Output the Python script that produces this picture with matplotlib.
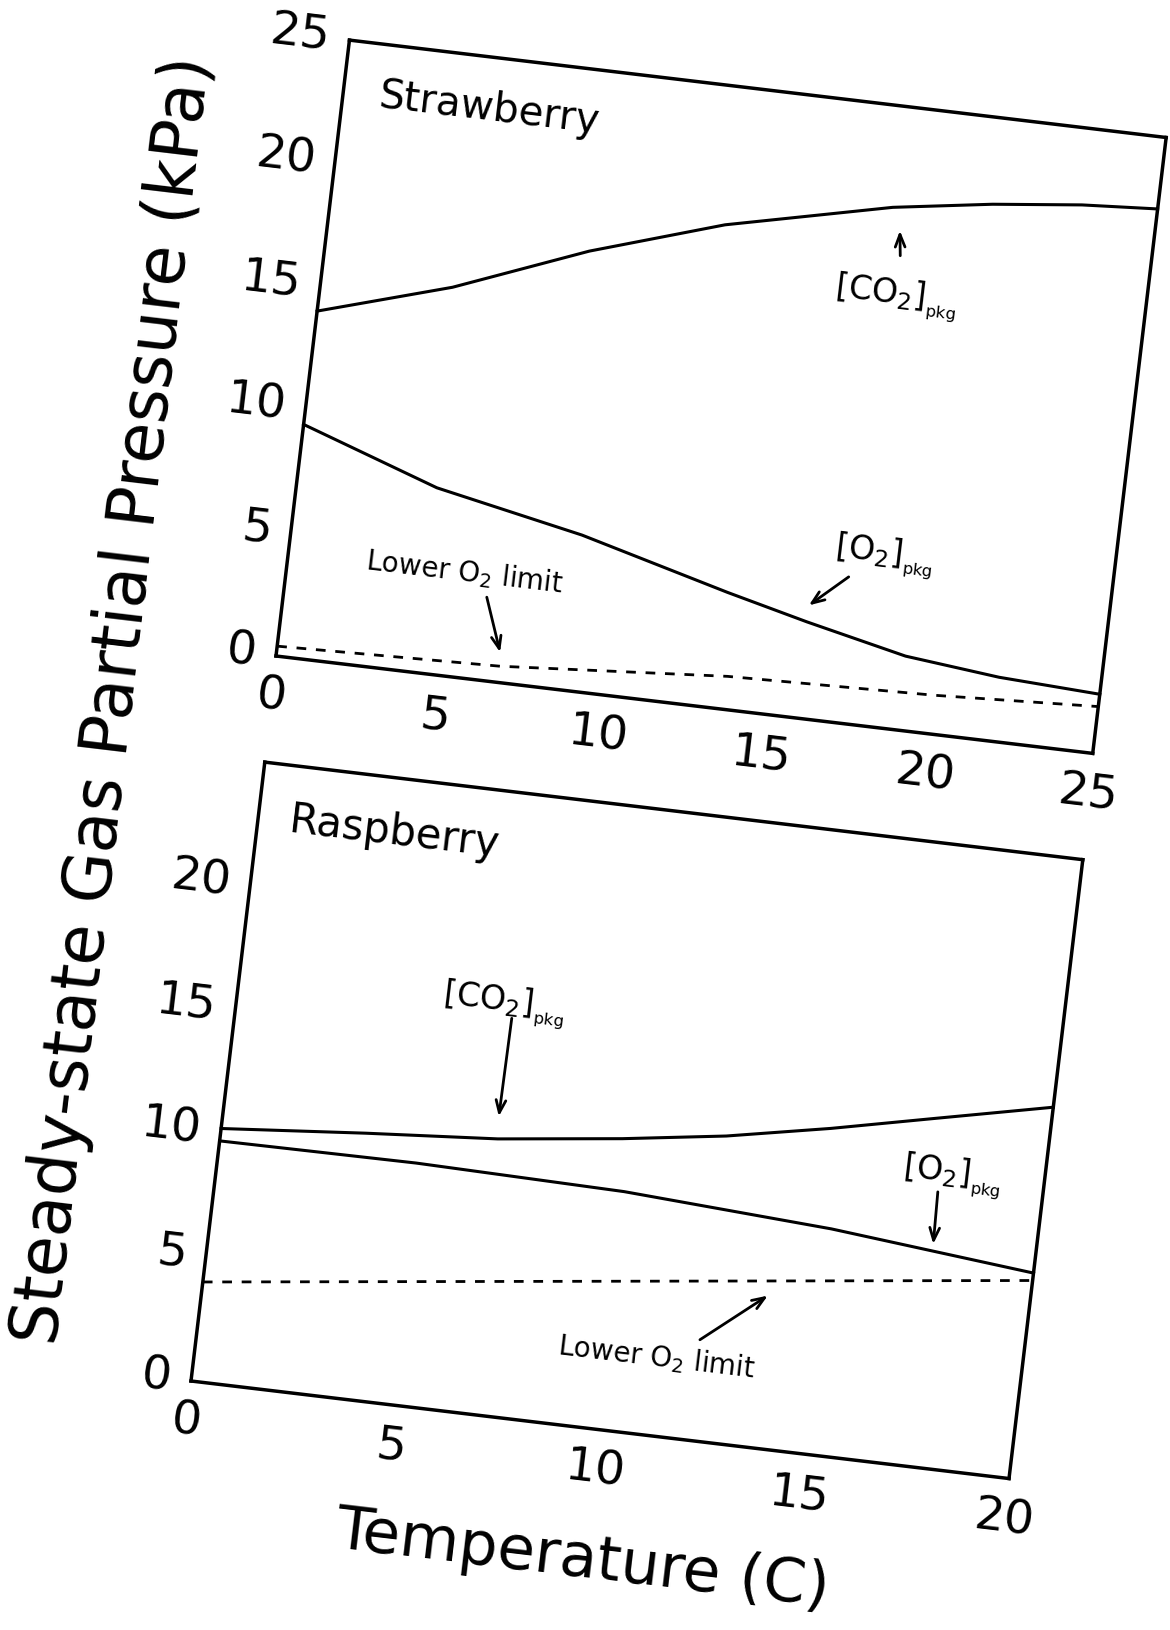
import numpy as np
import matplotlib.pyplot as plt
from matplotlib.transforms import Affine2D
import mpl_toolkits.axisartist.floating_axes as floating_axes
from mpl_toolkits.axisartist.grid_finder import FixedLocator, DictFormatter

plt.rcParams["font.family"] = "DejaVu Sans"
plt.rcParams["mathtext.default"] = "regular"

# Strawberry panel (temperature in C, partial pressure in kPa)
straw_t_co2 = [0, 4, 8, 12, 17, 20, 22.7, 25]
straw_co2 = [14.0, 15.6, 17.7, 19.4, 20.9, 21.5, 21.9, 22.1]
straw_t_o2 = [0, 4.25, 8.8, 13.4, 15.9, 19, 21.9, 25]
straw_o2 = [9.4, 7.5, 6.3, 4.7, 3.9, 3.0, 2.6, 2.4]
straw_t_lim = [0, 6.8, 13.7, 20, 25]
straw_lim = [0.4, 0.66, 1.34, 1.57, 1.9]

# Raspberry panel
rasp_t_co2 = [0, 3.5, 6.7, 9.7, 12.2, 14.7, 17.2, 20]
rasp_co2 = [10.2, 10.7, 11.1, 11.7, 12.3, 13.1, 14.0, 15.0]
rasp_t_o2 = [0, 4.8, 9.9, 15, 20]
rasp_o2 = [9.7, 9.75, 9.6, 9.1, 8.3]
rasp_t_lim = [0, 20]
rasp_lim = [4.0, 8.0]

straw_xticks = [0, 5, 10, 15, 20, 25]
straw_yticks = [0, 5, 10, 15, 20, 25]
rasp_xticks = [0, 5, 10, 15, 20]
rasp_yticks = [0, 5, 10, 15, 20]

co2_lbl = "[CO$_2$]$_{_{pkg}}$"
o2_lbl = "[O$_2$]$_{_{pkg}}$"
lim_lbl = "Lower O$_2$ limit"

TILT = 6.8
fig = plt.figure(figsize=(11.7, 16.3), dpi=100)
W, H = 1170, 1630


def tilted_axes(origin, xmax, ymax, sx, sy, xticks, yticks):
    # the scanned page is turned a little, so the plot frame is turned too
    tr = Affine2D().scale(sx, sy).rotate_deg(-TILT)
    corners = tr.transform([(0, 0), (xmax, 0), (xmax, ymax), (0, ymax)])
    x0, y0 = corners.min(axis=0)
    x1, y1 = corners.max(axis=0)
    cx = origin[0] + (x0 + x1) / 2
    cy = H - origin[1] + (y0 + y1) / 2
    w, h = (x1 - x0) * 1.02, (y1 - y0) * 1.02
    rect = [(cx - w / 2) / W, (cy - h / 2) / H, w / W, h / H]
    gh = floating_axes.GridHelperCurveLinear(
        tr, extremes=(0, xmax, 0, ymax),
        grid_locator1=FixedLocator(xticks),
        grid_locator2=FixedLocator(yticks),
        tick_formatter1=DictFormatter({v: str(v) for v in xticks}),
        tick_formatter2=DictFormatter({v: str(v) for v in yticks}))
    ax = fig.add_axes(rect, axes_class=floating_axes.FloatingAxes, grid_helper=gh)
    for k in ["left", "right", "bottom", "top"]:
        ax.axis[k].line.set_linewidth(2.5)
        ax.axis[k].major_ticks.set_ticksize(0)
    ax.axis["top"].toggle(ticklabels=False, label=False)
    ax.axis["right"].toggle(ticklabels=False, label=False)
    for k in ["left", "bottom"]:
        ax.axis[k].major_ticklabels.set_fontsize(34)
    ax.axis["left"].major_ticklabels.set_pad(14)
    ax.axis["bottom"].major_ticklabels.set_pad(14)
    return ax, ax.get_aux_axes(tr)


def arrow(aux, tail, tip):
    aux.annotate("", xy=tip, xytext=tail,
                 arrowprops=dict(arrowstyle="->,head_length=0.9,head_width=0.35",
                                 lw=2, color="black", shrinkA=0, shrinkB=0))


# top panel
ax1, a1 = tilted_axes((276, 656), 25, 25, 32.9, 24.81, straw_xticks, straw_yticks)
a1.plot(straw_t_co2, straw_co2, color="black", lw=2.2)
a1.plot(straw_t_o2, straw_o2, color="black", lw=2.2)
a1.plot(straw_t_lim, straw_lim, color="black", lw=2, linestyle=(0, (3.5, 3.5)))
a1.text(4.47, 22.9, "Strawberry", fontsize=29, rotation=-TILT, ha="center", va="center")
a1.text(17.4, 17.3, co2_lbl, fontsize=24, rotation=-TILT, ha="center", va="center")
arrow(a1, (17.4, 19.0), (17.3, 20.0))
a1.text(18.0, 6.9, o2_lbl, fontsize=24, rotation=-TILT, ha="center", va="center")
arrow(a1, (17.0, 5.9), (15.9, 4.57))
a1.text(5.4, 4.26, lim_lbl, fontsize=20, rotation=-TILT, ha="center", va="center")
arrow(a1, (6.15, 3.36), (6.75, 1.22))

# bottom panel
ax2, a2 = tilted_axes((191, 1381), 20, 25, 41.19, 24.93, rasp_xticks, rasp_yticks)
a2.plot(rasp_t_co2, rasp_co2, color="black", lw=2.2)
a2.plot(rasp_t_o2, rasp_o2, color="black", lw=2.2)
a2.plot(rasp_t_lim, rasp_lim, color="black", lw=2, linestyle=(0, (3.5, 3.5)))
a2.text(3.33, 22.8, "Raspberry", fontsize=30, rotation=-TILT, ha="center", va="center")
a2.text(6.46, 16.5, co2_lbl, fontsize=24, rotation=-TILT, ha="center", va="center")
arrow(a2, (6.69, 15.97), (6.66, 12.0))
a2.text(17.75, 11.8, o2_lbl, fontsize=24, rotation=-TILT, ha="center", va="center")
arrow(a2, (17.46, 11.08), (17.5, 8.98))
a2.text(11.16, 3.15, lim_lbl, fontsize=20, rotation=-TILT, ha="center", va="center")
arrow(a2, (12.15, 4.06), (13.66, 6.14))

fig.text(114 / W, 1 - 700 / H, "Steady-state Gas Partial Pressure (kPa)",
         rotation=90 - TILT, ha="center", va="center", fontsize=48)
fig.text(582 / W, 1 - 1560 / H, "Temperature (C)",
         rotation=-TILT, ha="center", va="center", fontsize=44)

fig.savefig("out.png", dpi=100)
